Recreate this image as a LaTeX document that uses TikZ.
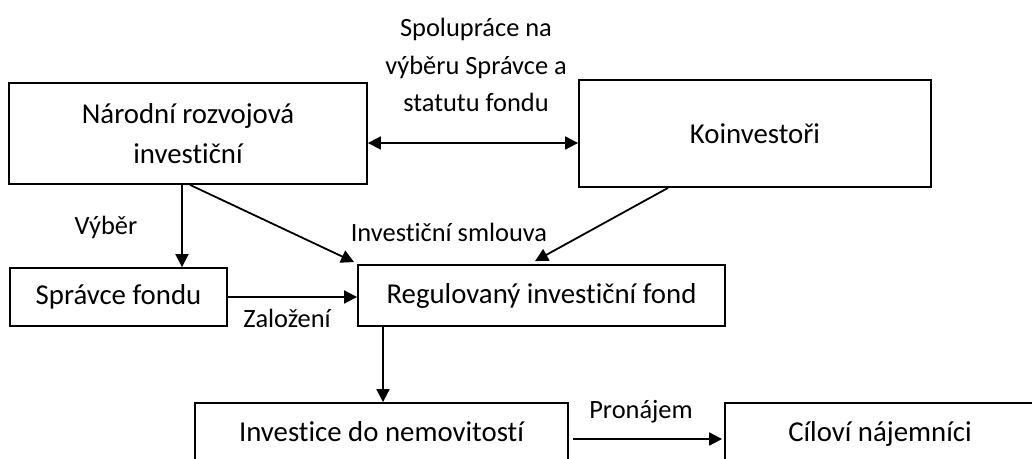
\documentclass[tikz,border=0pt]{standalone}
\usepackage{fontspec}
\setmainfont{Carlito}[Ligatures=NoCommon]
\usetikzlibrary{arrows.meta}

\begin{document}
\begin{tikzpicture}[x=0.5pt,y=-0.5pt,>={Triangle[length=6.5pt,width=6.5pt]},
  box/.style={draw,line width=0.9pt,inner sep=0pt,align=center,font=\fontsize{14.4}{20}\selectfont},
  lbl/.style={inner sep=0pt,align=center,font=\fontsize{13.2}{18.75}\selectfont},
  arr/.style={line width=0.9pt}]
  \useasboundingbox (0,0) rectangle (1032,459);
  \clip (0,0) rectangle (1032,459);
  \node[box,minimum width=179pt,minimum height=50.5pt] (nri) at (188,133.5) {Národní rozvojová\\investiční};
  \node[box,minimum width=176pt,minimum height=53.5pt] (koinv) at (755,133.5) {Koinvestoři};
  \node[box,minimum width=108.5pt,minimum height=29pt] (spravce) at (118.5,297) {Správce fondu};
  \node[box,minimum width=183.5pt,minimum height=30.5pt] (reg) at (541.5,295.5) {Regulovaný investiční fond};
  \node[box,minimum width=186.5pt,minimum height=31pt,text height=10pt,text depth=3pt] (inv) at (381.5,434) {Investice do nemovitostí};
  \node[box,minimum width=155pt,minimum height=31pt,text height=10pt,text depth=3pt] (cil) at (880,434) {Cíloví nájemníci};
  \node[lbl] (coop) at (476,65) {Spolupráce na\\výběru Správce a\\statutu fondu};
  \node[lbl] (vyber) at (106,227) {Výběr};
  \node[lbl] (smlouva) at (449,232) {Investiční smlouva};
  \node[lbl] (zalozeni) at (287,318) {Založení};
  \node[lbl] (pronajem) at (641,412) {Pronájem};
  \draw[arr,<->] ([yshift=-4.75pt]nri.east) -- ([yshift=-4.75pt]koinv.west);
  \draw[arr,->] ([xshift=-3pt]nri.south) -- ([xshift=-3pt]nri.south |- spravce.north);
  \draw[arr,->] ([xshift=1pt]nri.south) -- ([xshift=-1.5pt,yshift=1pt]reg.north west);
  \draw[arr,->] ([xshift=-43.5pt]koinv.south) -- ([xshift=-3.25pt,yshift=1.5pt]reg.north);
  \draw[arr,->] (spravce.east) -- (spravce.east -| reg.west);
  \draw[arr,->] ([xshift=-79.25pt]reg.south) -- ([xshift=-79.25pt]reg.south |- inv.north);
  \draw[arr,->] ([xshift=2pt,yshift=-2.5pt]inv.east) -- ([xshift=-1pt,yshift=-2.5pt]cil.west);
\end{tikzpicture}
\end{document}
